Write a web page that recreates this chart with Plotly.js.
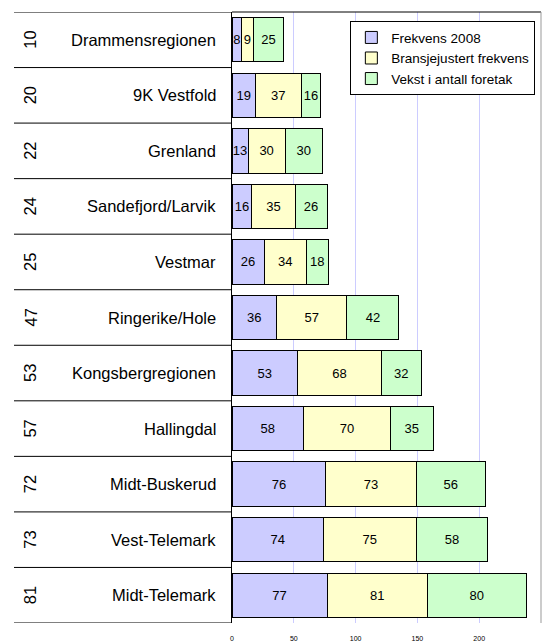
<!DOCTYPE html>
<html>
<head>
<meta charset="utf-8">
<script src="https://cdn.plot.ly/plotly-3.0.1.min.js"></script>
<style>html,body{margin:0;padding:0;background:#fff;}#chart{width:545px;height:644px;}</style>
</head>
<body>
<div id="chart"></div>
<script>
const regions = ["Drammensregionen","9K Vestfold","Grenland","Sandefjord/Larvik","Vestmar","Ringerike/Hole","Kongsbergregionen","Hallingdal","Midt-Buskerud","Vest-Telemark","Midt-Telemark"];
const ranks = ["10","20","22","24","25","47","53","57","72","73","81"];
const frekvens2008 = [8,19,13,16,26,36,53,58,76,74,77];
const bransjejustert = [9,37,30,35,34,57,68,70,73,75,81];
const vekst = [25,16,30,26,18,42,32,35,56,58,80];
const seriesNames = ["Frekvens 2008","Bransjejustert frekvens","Vekst i antall foretak"];
const tickVals = [0,50,100,150,200,250];

const colors = ["#CCCCFF","#FFFFCC","#CCFFCC"];
const font = "Liberation Sans, Arial, sans-serif";
const data = [frekvens2008, bransjejustert, vekst].map((vals, k) => ({
  type: "bar", orientation: "h", name: seriesNames[k],
  x: vals, y: regions, text: vals.map(String),
  textposition: "inside", insidetextanchor: "middle", textangle: 0,
  constraintext: "none", cliponaxis: false,
  textfont: {family: font, size: 13, color: "#000"},
  marker: {color: colors[k], line: {color: "#000", width: 1}},
  hoverinfo: "none"
}));

const L = (14 - 232) / 309;
const shapes = [];
for (let i = 0; i <= regions.length; i++) {
  shapes.push({type: "line", xref: "paper", yref: "y", x0: L, x1: 0, y0: i - 0.5, y1: i - 0.5,
    line: {color: "#000", width: 1}});
}
shapes.push({type: "line", xref: "paper", yref: "paper", x0: 0, x1: 1, y0: 1, y1: 1, line: {color: "#000", width: 1}});
shapes.push({type: "line", xref: "paper", yref: "paper", x0: 1, x1: 1, y0: 0, y1: 1, line: {color: "#999", width: 1}});

const annotations = [];
regions.forEach((r, i) => {
  annotations.push({xref: "paper", yref: "y", x: -0.045, y: r, text: r, showarrow: false,
    xanchor: "right", yanchor: "middle", font: {family: font, size: 16.5, color: "#000"}});
  annotations.push({xref: "paper", yref: "y", x: (30 - 232) / 309, y: r, text: ranks[i], showarrow: false,
    textangle: -90, xanchor: "center", yanchor: "middle", font: {family: font, size: 16.5, color: "#000"}});
});

const layout = {
  width: 545, height: 644,
  margin: {l: 232, r: 4, t: 12, b: 21},
  paper_bgcolor: "#fff", plot_bgcolor: "#fff",
  barmode: "stack", bargap: 0.2,
  showlegend: true,
  legend: {x: 0.383, y: 0.985, xanchor: "left", yanchor: "top", bgcolor: "#fff",
    bordercolor: "#000", borderwidth: 1, traceorder: "normal", itemwidth: 30,
    font: {family: font, size: 13.5, color: "#000"}},
  xaxis: {range: [0, 250], tickvals: tickVals, ticktext: tickVals.map(String),
    showgrid: true, gridcolor: "#CCCCFF", gridwidth: 1, zeroline: false, showline: false,
    ticks: "", ticklabelstandoff: 10, tickfont: {family: font, size: 7, color: "#000"}, fixedrange: true},
  yaxis: {type: "category", categoryorder: "array", categoryarray: regions,
    range: [regions.length - 0.5, -0.5], showticklabels: false, showgrid: false,
    zeroline: false, showline: true, linecolor: "#000", linewidth: 1, ticks: ""},
  shapes: shapes, annotations: annotations
};
Plotly.newPlot("chart", data, layout, {displayModeBar: false, staticPlot: true});
</script>
</body>
</html>
